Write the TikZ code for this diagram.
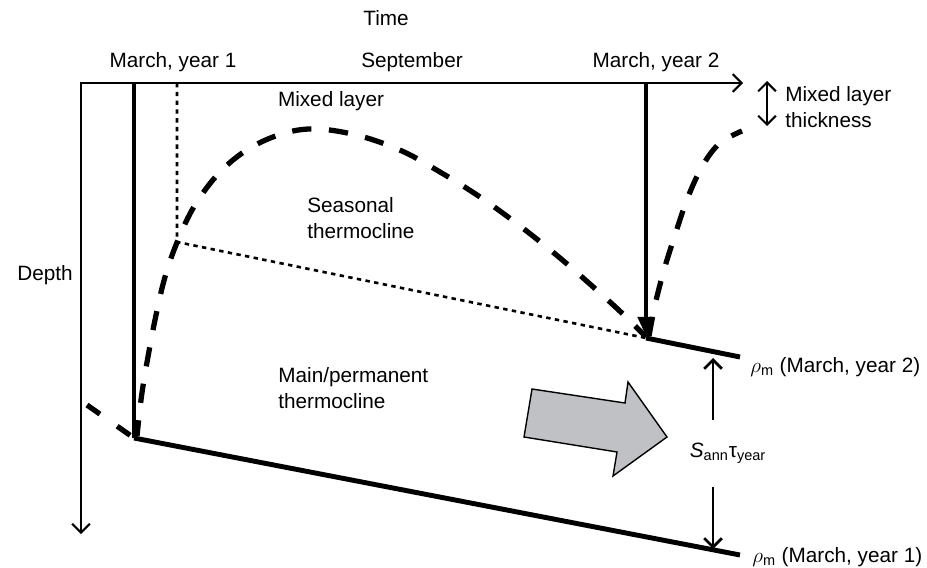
\documentclass[tikz,border=0pt]{standalone}
\usepackage{fontspec}
\setmainfont{Liberation Sans}
\usetikzlibrary{arrows.meta}
\definecolor{arrowgray}{RGB}{192,193,197}
\tikzset{
  lbl/.style={font=\fontsize{11.8}{14.5}\selectfont, inner sep=0pt},
  axisline/.style={line width=0.8pt, -{Straight Barb[length=5pt,width=10pt,line width=1.2pt]}},
  thickline/.style={line width=2.8pt},
  mldash/.style={line width=3pt, dash pattern=on 11pt off 10pt},
  dotline/.style={line width=1.5pt, dash pattern=on 2.5pt off 2.5pt},
  thinarrow/.style={line width=0.8pt, -{Straight Barb[length=5pt,width=10pt,line width=1.6pt]}}
}
\begin{document}
\begin{tikzpicture}[x=0.02cm, y=-0.02cm]
\useasboundingbox (0,0) rectangle (927,568);

% axes
\coordinate (origin) at (80,83);
\coordinate (timeend) at (743,83);
\coordinate (depthend) at (81,534);
\draw[axisline] (origin) -- (timeend);
\draw[axisline] (81,83) -- (depthend);
\node[lbl] (time) at (386,18) {Time};
\node[lbl] (depth) at (45,275) {Depth};
\node[lbl] (mar1) at (173,62) {March, year 1};
\node[lbl] (sep) at (412,62) {September};
\node[lbl] (mar2) at (656,62) {March, year 2};

% points of the mixed layer base
\coordinate (top1) at (134,83);
\coordinate (base1) at (134,438);
\coordinate (top2) at (646,83);
\coordinate (base2) at (646,338);
\coordinate (rho1) at (740,555);
\coordinate (rho2) at (740,357);
\coordinate (septop) at (177,83);
\coordinate (sepbase) at (177,242);

% winter mixing down to the main thermocline
\draw[thickline] (top1) -- (base1);
\draw[thickline, -{Triangle[length=11pt,width=9pt]}] (top2) -- ([yshift=1pt]base2);
\draw[thickline] (base1) -- (rho1);
\draw[thickline] (base2) -- (rho2);

% seasonal thermocline
\draw[dotline] (septop) -- (sepbase) -- (base2);

% mixed layer thickness
\draw[mldash, dash phase=2pt] plot[smooth, tension=0.6] coordinates {(137,436) (141,400) (146,368) (155,320) (165,277) (178,240) (195,205) (220,172) (250,148) (285,133) (318,129) (360,136) (402,151) (440,172) (480,197) (520,226) (560,258) (600,293) (625,316) (646,337)};
\draw[mldash] plot[smooth, tension=0.6] coordinates {(649,336) (655,305) (664,270) (675,235) (688,197) (703,165) (720,143) (742,131)};
\draw[mldash, dash pattern=on 9pt off 12pt] (87,405) -- (base1);

\node[lbl, anchor=south] (ml) at (331,111) {Mixed layer};
\node[lbl, anchor=west, align=left] (seas) at (307,218) {Seasonal\\thermocline};
\node[lbl, anchor=west, align=left] (main) at (278,388) {Main/permanent\\thermocline};

% mixed layer thickness key
\coordinate (mlt1) at (767,81);
\coordinate (mlt2) at (767,126);
\draw[line width=0.8pt, {Straight Barb[length=5pt,width=10pt,line width=1.2pt]}-{Straight Barb[length=5pt,width=10pt,line width=1.2pt]}] (mlt1) -- (mlt2);
\node[lbl, anchor=west, align=left] (mltxt) at (785,107) {Mixed layer\\thickness};

% subduction arrow
\filldraw[fill=arrowgray, draw=black, line width=0.8pt, line join=miter]
  (532,389) -- (625,403) -- (628,382) -- (667,437) -- (613,476) -- (617,452) -- (524,437) -- cycle;

% annual subduction
\node[lbl] (sann) at (728,453) {{\itshape S}\textsubscript{ann}τ\textsubscript{year}};
\coordinate (up0) at (713,420);
\coordinate (up1) at (713,358);
\coordinate (dn0) at (713,487);
\coordinate (dn1) at (713,549);
\draw[thinarrow] (up0) -- (up1);
\draw[thinarrow] (dn0) -- (dn1);
\node[lbl, anchor=west] (rholbl2) at (750,367) {$\rho$\textsubscript{m} (March, year 2)};
\node[lbl, anchor=west] (rholbl1) at (752,557) {$\rho$\textsubscript{m} (March, year 1)};
\end{tikzpicture}
\end{document}
